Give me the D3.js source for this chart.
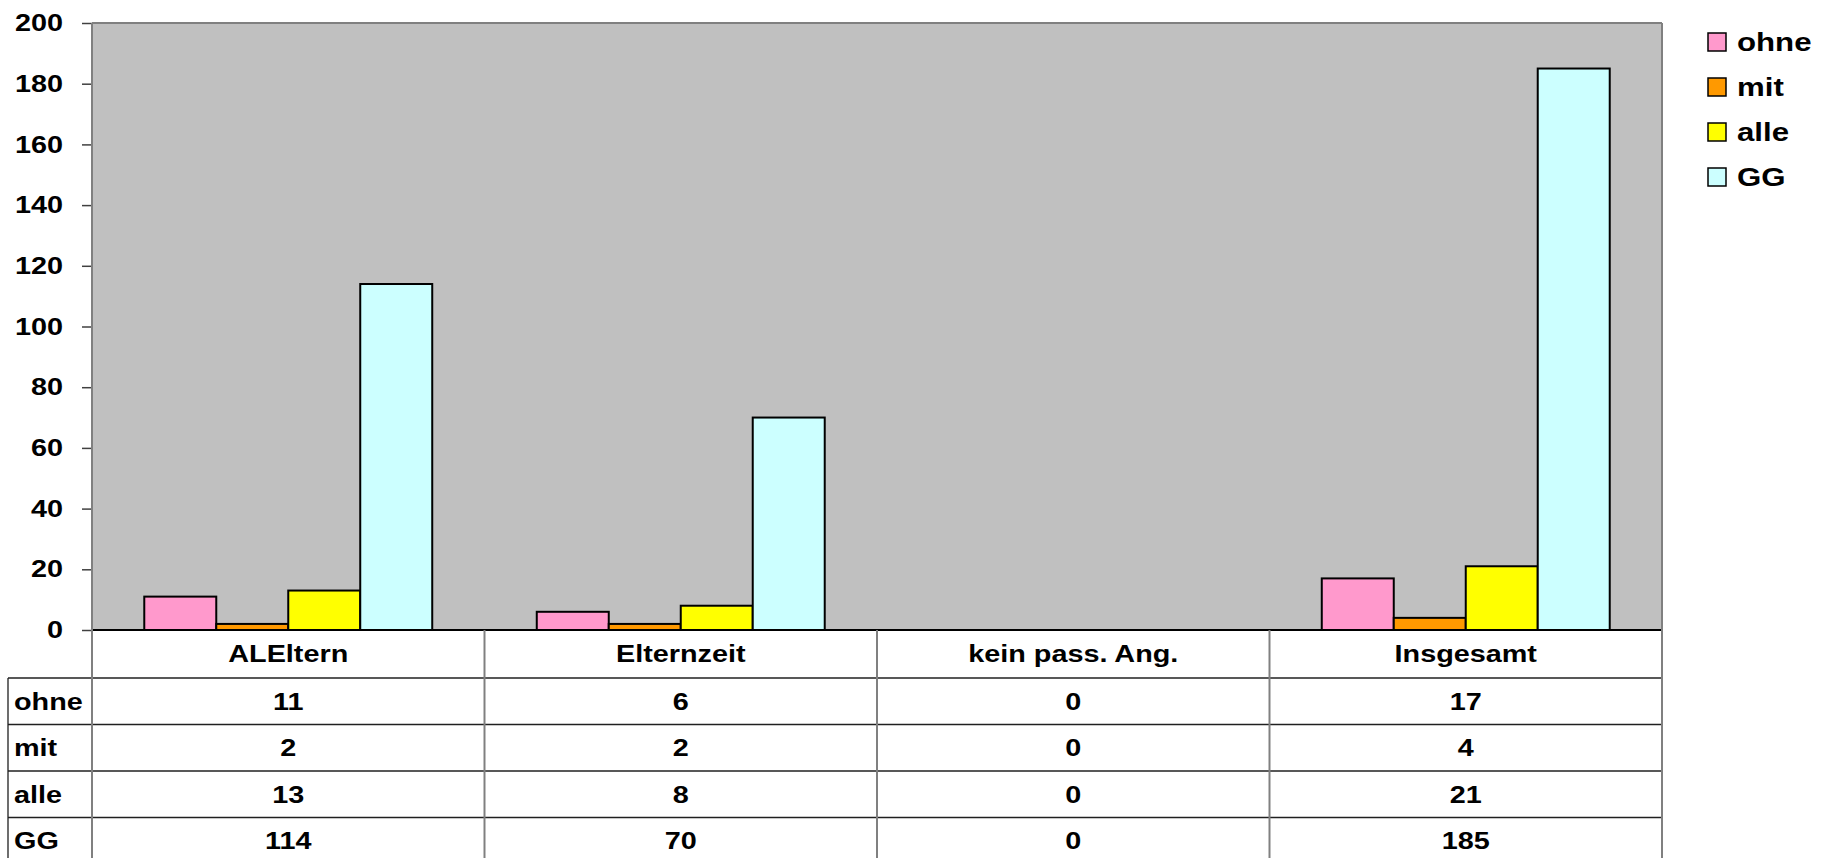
<!DOCTYPE html>
<html>
<head>
<meta charset="utf-8">
<script src="https://cdn.jsdelivr.net/npm/d3@7"></script>
<style>
  body { margin: 0; background: #fff; }
  text { font-family: "Liberation Sans", Arial, sans-serif; font-weight: bold; }
</style>
</head>
<body>
<div id="chart"></div>
<script>
// data
var categories = ["ALEltern", "Elternzeit", "kein pass. Ang.", "Insgesamt"];
var seriesNames = ["ohne", "mit", "alle", "GG"];
var ohne = [11, 6, 0, 17];
var mit = [2, 2, 0, 4];
var alle = [13, 8, 0, 21];
var gg = [114, 70, 0, 185];
var yTicks = [0, 20, 40, 60, 80, 100, 120, 140, 160, 180, 200];
var colors = ["#FF99CC", "#FF9900", "#FFFF00", "#CCFFFF"];

var seriesValues = [ohne, mit, alle, gg];

var w = 1831, h = 858;
var plotLeft = 92, plotRight = 1662, plotTop = 23, plotBottom = 630;
var tableTop = 678, rowH = 46.5, tableLeft = 8;
var stretch = 1.2; // the original text is drawn wider than normal

var svg = d3.select("#chart").append("svg")
    .attr("width", w)
    .attr("height", h);

var x = d3.scaleBand()
    .domain(categories)
    .range([plotLeft, plotRight])
    .padding(0);

var xInner = d3.scaleBand()
    .domain(seriesNames)
    .range([0, x.bandwidth()])
    .paddingInner(0)
    .paddingOuter(0.726);

var y = d3.scaleLinear()
    .domain([0, 200])
    .range([plotBottom, plotTop]);

// stretched text helper
function label(parent, tx, ty, str, size, anchor) {
    return parent.append("text")
        .attr("transform", "translate(" + tx + "," + ty + ") scale(" + stretch + ",1)")
        .attr("dy", "0.35em")
        .attr("text-anchor", anchor || "middle")
        .style("font-size", size + "px")
        .text(str);
}

// plot background
svg.append("rect")
    .attr("x", plotLeft)
    .attr("y", plotTop)
    .attr("width", plotRight - plotLeft)
    .attr("height", plotBottom - plotTop)
    .attr("fill", "#C0C0C0");

// bars
var rows = [];
categories.forEach(function(c, ci) {
    seriesNames.forEach(function(s, si) {
        rows.push({cat: c, series: s, si: si, value: seriesValues[si][ci]});
    });
});

svg.selectAll("rect.bar")
    .data(rows.filter(function(d) { return d.value > 0; }))
    .enter().append("rect")
    .attr("class", "bar")
    .attr("x", function(d) { return x(d.cat) + xInner(d.series); })
    .attr("y", function(d) { return y(d.value); })
    .attr("width", xInner.bandwidth())
    .attr("height", function(d) { return y(0) - y(d.value); })
    .attr("fill", function(d) { return colors[d.si]; })
    .attr("stroke", "#000")
    .attr("stroke-width", 2);

// plot border top
svg.append("line")
    .attr("x1", plotLeft).attr("x2", plotRight)
    .attr("y1", plotTop).attr("y2", plotTop)
    .attr("stroke", "#808080").attr("stroke-width", 2);

// y axis
var yAxis = d3.axisLeft(y)
    .tickValues(yTicks)
    .tickSize(10)
    .tickPadding(19);

var yg = svg.append("g")
    .attr("transform", "translate(" + plotLeft + ",0)")
    .call(yAxis);
yg.select(".domain").remove();
yg.selectAll(".tick line").attr("stroke", "#404040").attr("stroke-width", 1.5);
yg.selectAll(".tick text")
    .attr("fill", "#000")
    .attr("x", null)
    .attr("transform", "translate(-29,0) scale(" + stretch + ",1)")
    .style("font-size", "24px")
    .style("font-family", "'Liberation Sans', Arial, sans-serif")
    .style("font-weight", "bold");

// zero line
svg.append("line")
    .attr("x1", plotLeft).attr("x2", plotRight)
    .attr("y1", plotBottom).attr("y2", plotBottom)
    .attr("stroke", "#000").attr("stroke-width", 2);

// data table
var tableBottom = h;
var g = svg.append("g");

// horizontal lines
var hLines = [tableTop, tableTop + rowH, tableTop + rowH * 2, tableTop + rowH * 3];
g.selectAll("line.h")
    .data(hLines)
    .enter().append("line")
    .attr("x1", tableLeft).attr("x2", plotRight)
    .attr("y1", function(d) { return d; })
    .attr("y2", function(d) { return d; })
    .attr("stroke", "#202020").attr("stroke-width", 1.3);

// vertical lines
g.append("line")
    .attr("x1", tableLeft).attr("x2", tableLeft)
    .attr("y1", tableTop).attr("y2", tableBottom)
    .attr("stroke", "#202020").attr("stroke-width", 1.3);

var vLines = [plotLeft].concat(categories.map(function(c) { return x(c) + x.bandwidth(); }));
g.selectAll("line.v")
    .data(vLines)
    .enter().append("line")
    .attr("x1", function(d) { return d; })
    .attr("x2", function(d) { return d; })
    .attr("y1", function(d, i) { return i === 0 ? plotTop : plotBottom; })
    .attr("y2", tableBottom)
    .attr("stroke", "#808080").attr("stroke-width", 2);

// right plot border
svg.append("line")
    .attr("x1", plotRight).attr("x2", plotRight)
    .attr("y1", plotTop).attr("y2", plotBottom)
    .attr("stroke", "#808080").attr("stroke-width", 2);

// category labels
categories.forEach(function(c) {
    label(g, x(c) + x.bandwidth() / 2, (plotBottom + tableTop) / 2, c, 24);
});

// row labels and values
seriesNames.forEach(function(s, si) {
    var cy = tableTop + rowH * si + rowH / 2;
    label(g, tableLeft + 6, cy, s, 24, "start");
    seriesValues[si].forEach(function(v, ci) {
        label(g, x(categories[ci]) + x.bandwidth() / 2, cy, v, 24);
    });
});

// legend
var legend = svg.selectAll("g.legend")
    .data(seriesNames)
    .enter().append("g")
    .attr("transform", function(d, i) { return "translate(1708," + (42 + i * 45) + ")"; });

legend.append("rect")
    .attr("x", 0).attr("y", -9)
    .attr("width", 18).attr("height", 18)
    .attr("fill", function(d, i) { return colors[i]; })
    .attr("stroke", "#000").attr("stroke-width", 1.5);

legend.each(function(d) {
    label(d3.select(this), 29, 0, d, 26, "start");
});
</script>
</body>
</html>
